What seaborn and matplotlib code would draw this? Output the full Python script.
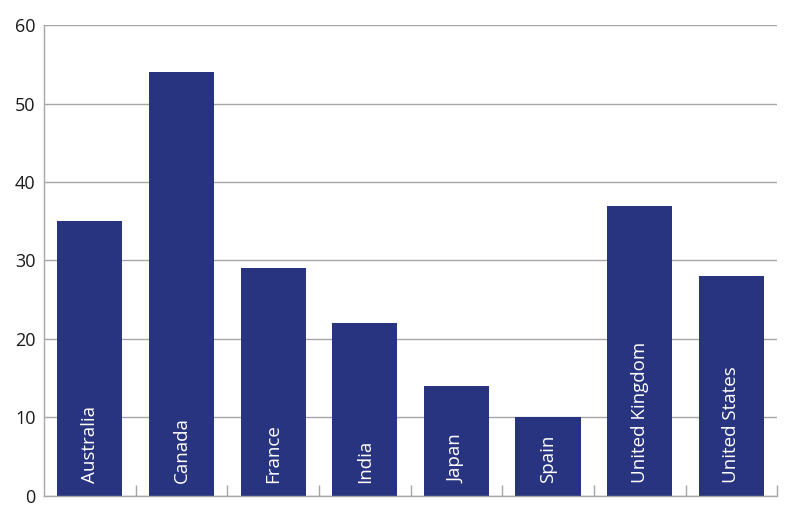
import matplotlib
matplotlib.use("Agg")
import matplotlib.pyplot as plt
import seaborn as sns
import pandas as pd

# data
countries = ["Australia", "Canada", "France", "India", "Japan", "Spain",
             "United Kingdom", "United States"]
values = [35, 54, 29, 22, 14, 10, 37, 28]
y_ticks = [0, 10, 20, 30, 40, 50, 60]

bar_color = "#283480"
grid_color = "#a6a6a6"

sns.set_theme(style="white")
plt.rcParams["font.family"] = ["Open Sans", "DejaVu Sans"]

df = pd.DataFrame({"country": countries, "value": values})

fig = plt.figure(figsize=(7.85, 5.23), dpi=100)
ax = fig.add_axes([0.056, 0.052, 0.934, 0.900])

ax.set_axisbelow(True)
ax.yaxis.grid(True, color=grid_color, linewidth=1)

sns.barplot(data=df, x="country", y="value", color=bar_color,
            saturation=1, width=0.71, linewidth=0, ax=ax)

# country names inside the bars
for i, name in enumerate(countries):
    ax.text(i, 1.6, name, rotation=90, ha="center", va="bottom",
            color="white", fontsize=13.5)

ax.set_xlim(-0.5, len(countries) - 0.5)
ax.set_ylim(0, 60)
ax.set_yticks(y_ticks)
ax.set_xticks([i + 0.5 for i in range(len(countries))])
ax.set_xticklabels([])
ax.set_xlabel("")
ax.set_ylabel("")

ax.tick_params(axis="x", direction="in", length=8, width=1,
               color=grid_color, bottom=True)
ax.tick_params(axis="y", length=0, labelsize=13, pad=6, labelcolor="#1a1a1a")

for side in ["top", "right"]:
    ax.spines[side].set_visible(False)
for side in ["left", "bottom"]:
    ax.spines[side].set_color(grid_color)
    ax.spines[side].set_linewidth(1)

fig.savefig("out.png", dpi=100)
